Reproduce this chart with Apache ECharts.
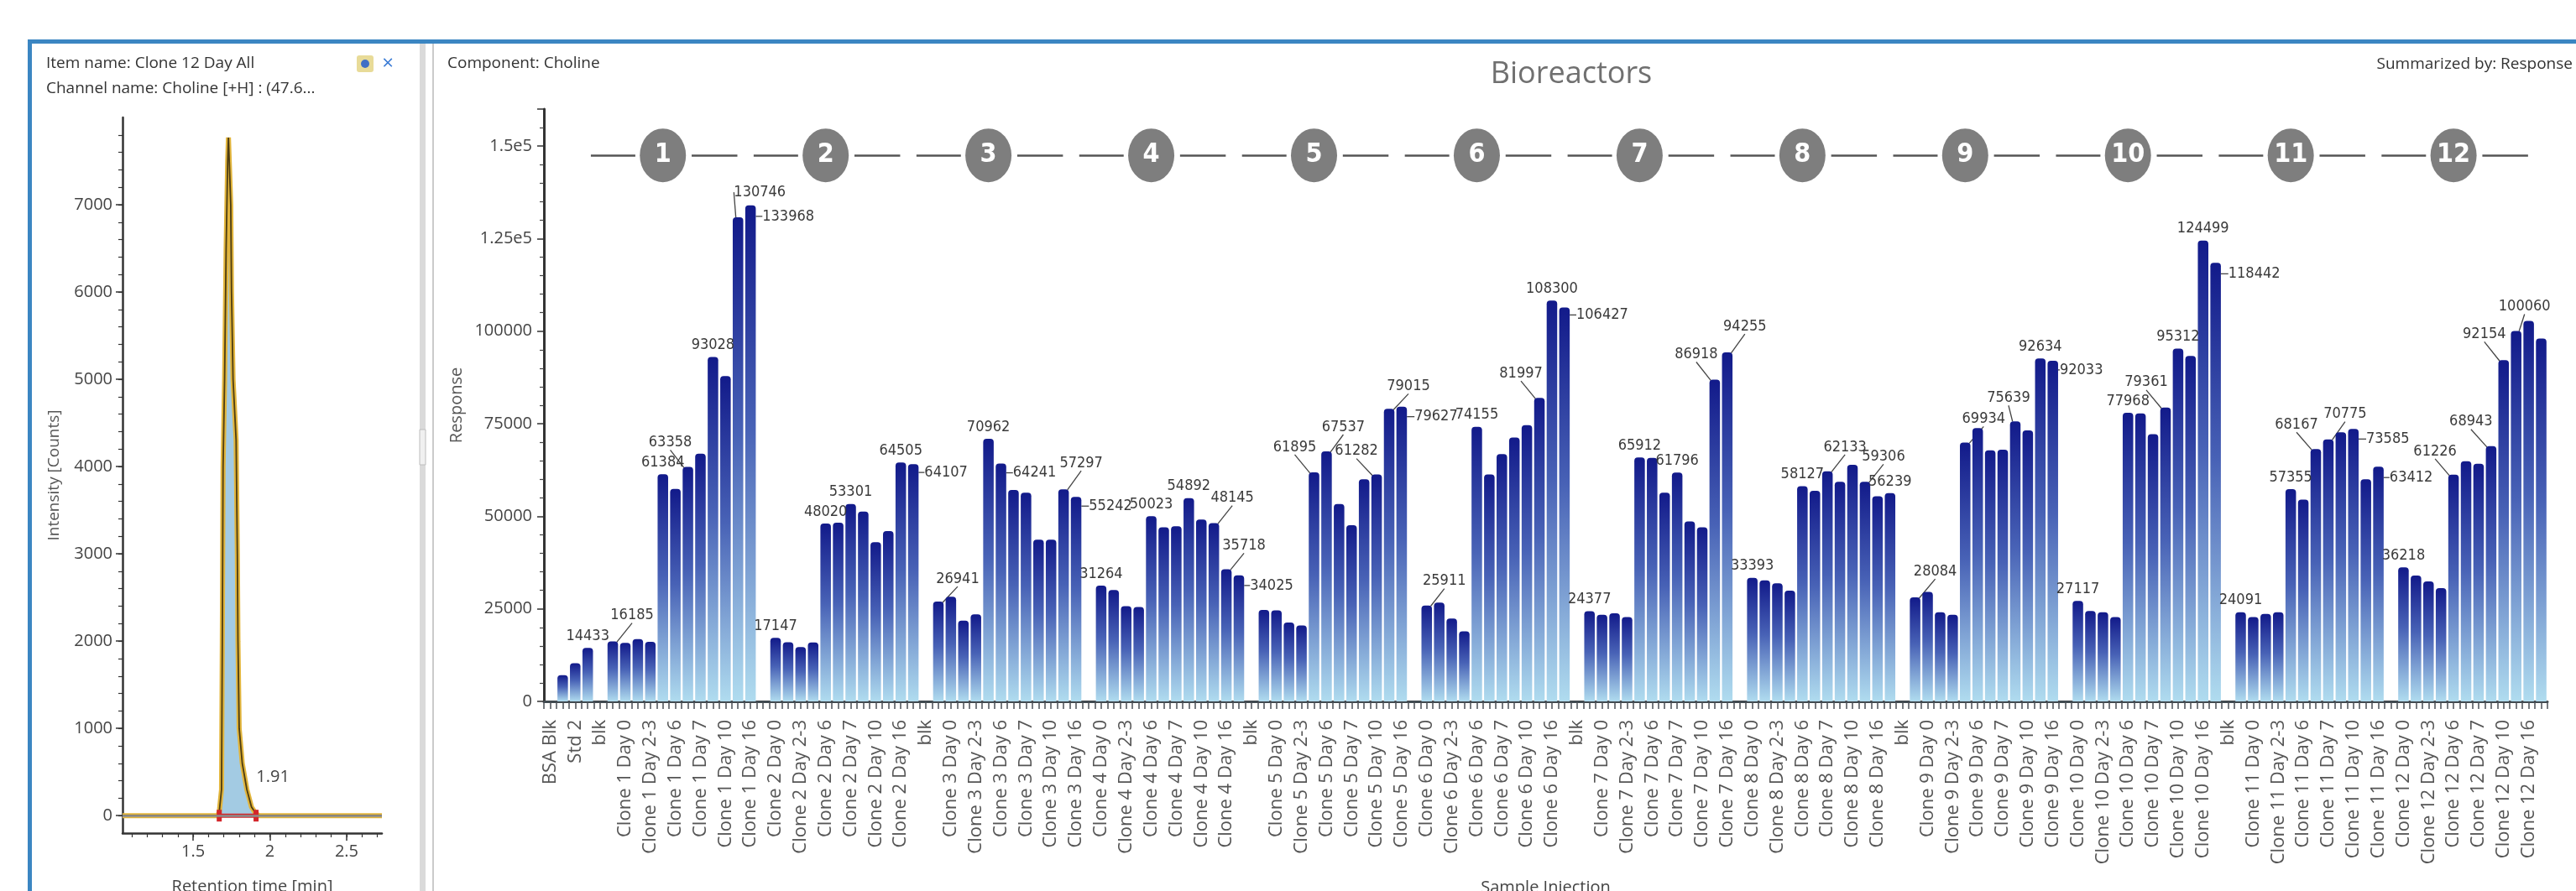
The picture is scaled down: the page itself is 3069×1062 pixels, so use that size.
<!DOCTYPE html>
<html>
<head>
<meta charset="utf-8">
<script src="https://cdn.jsdelivr.net/npm/echarts@6/dist/echarts.min.js"></script>
<style>
  html, body { margin: 0; padding: 0; background: #ffffff; }
  #chart { width: 3069px; height: 1062px; }
</style>
</head>
<body>
<div id="chart"></div>
<script>
// ---- Bioreactor responses (Choline) ----
const prefixNames = ['BSA Blk', 'BSA Blk', 'Std 2', 'Std 2', 'blk'];
const prefixValues = [0, 7100, 10300, 14433, 0];
const dayNames = ['Day 0', 'Day 2-3', 'Day 6', 'Day 7', 'Day 10', 'Day 16'];
const cloneIds = [1, 2, 3, 4, 5, 6, 7, 8, 9, 10, 11, 12];

// two injections per day, in day order
const clone1 = [16185, 15800, 16800, 16100, 61384, 57400, 63358, 66900, 93028, 87900, 130746, 133968];
const clone2 = [17147, 16000, 14700, 15900, 48020, 48300, 53301, 51300, 43000, 46000, 64505, 64107];
const clone3 = [26941, 28300, 21800, 23500, 70962, 64241, 57100, 56400, 43700, 43700, 57297, 55242];
const clone4 = [31264, 30100, 25700, 25500, 50023, 47000, 47300, 54892, 49100, 48145, 35718, 34025];
const clone5 = [24700, 24600, 21300, 20500, 61895, 67537, 53300, 47600, 60000, 61282, 79015, 79627];
const clone6 = [25911, 26700, 22400, 18900, 74155, 61300, 66800, 71300, 74600, 81997, 108300, 106427];
const clone7 = [24377, 23400, 23800, 22800, 65912, 65800, 56400, 61796, 48600, 47000, 86918, 94255];
const clone8 = [33393, 32700, 31900, 29900, 58127, 56900, 62133, 59300, 63900, 59306, 55400, 56239];
const clone9 = [28084, 29600, 24100, 23400, 69934, 73800, 67800, 68000, 75639, 73200, 92634, 92033];
const clone10 = [27117, 24400, 24100, 22800, 77968, 77800, 72200, 79361, 95312, 93300, 124499, 118442];
const clone11 = [24091, 22800, 23600, 24100, 57355, 54500, 68167, 70775, 72700, 73585, 60000, 63412];
const clone12 = [36218, 34000, 32400, 30600, 61226, 64900, 64200, 68943, 92154, 100060, 102800, 98000];
const cloneResponses = [clone1, clone2, clone3, clone4, clone5, clone6, clone7, clone8, clone9, clone10, clone11, clone12];

// injections whose response is printed
const labelledBars = [3, 5, 9, 11, 13, 15, 16, 18, 22, 24, 28, 29, 31, 35, 36, 41, 42, 44, 48, 51, 53, 54, 55,
  61, 62, 66, 67, 68, 70, 74, 79, 80, 81, 83, 87, 90, 93, 94, 96, 100, 102, 105, 107, 109, 113, 117, 119, 120,
  122, 126, 129, 130, 132, 133, 135, 139, 141, 142, 144, 146, 148, 152, 155, 156, 157];

const responseTicks = [0, 25000, 50000, 75000, 100000, 125000, 150000];

// ---- Chromatogram of Choline [+H] ----
const traceTime = [1.04, 1.60, 1.66, 1.67, 1.685, 1.69, 1.695, 1.705, 1.715, 1.725, 1.73, 1.745, 1.75, 1.76, 1.78,
  1.788, 1.792, 1.80, 1.82, 1.85, 1.88, 1.91, 1.93, 2.20, 2.73];
const traceIntensity = [0, 0, 0, 40, 300, 2000, 4000, 5000, 6500, 7500, 7770, 7000, 6000, 5000, 4300,
  3000, 2000, 1000, 600, 300, 100, 20, 0, 0, 0];
const peakName = 'Choline';
const peakApexTime = 1.73;
const peakBounds = [1.67, 1.91];
const timeTicks = [1.5, 2, 2.5];
const timeMinorTicks = [1.1, 1.2, 1.3, 1.4, 1.5, 1.6, 1.7, 1.8, 1.9, 2.0, 2.1, 2.2, 2.3, 2.4, 2.5, 2.6, 2.7];
const intensityTicks = [0, 1000, 2000, 3000, 4000, 5000, 6000, 7000];
const intensityMinorTicks = [0, 200, 400, 600, 800, 1000, 1200, 1400, 1600, 1800, 2000, 2200, 2400, 2600, 2800,
  3000, 3200, 3400, 3600, 3800, 4000, 4200, 4400, 4600, 4800, 5000, 5200, 5400, 5600, 5800, 6000, 6200, 6400,
  6600, 6800, 7000, 7200, 7400, 7600, 7800];

// ---- build the category list: prefix, then each clone followed by a blank ----
const categories = prefixNames.slice();
const responses = prefixValues.slice();
const groupStart = [];
cloneIds.forEach(function (c, ci) {
  if (ci > 0) { categories.push('blk'); responses.push(0); }
  groupStart.push(categories.length);
  dayNames.forEach(function (d) {
    categories.push('Clone ' + c + ' ' + d);
    categories.push('Clone ' + c + ' ' + d);
  });
  cloneResponses[ci].forEach(function (v) { responses.push(v); });
});

// value labels that sit beside their bar, with a short guide line (pixel nudges)
const labelNudge = {
  5: [23, -17], 11: [-21, -15], 15: [26, -16], 16: [45, 27], 29: [39, 24], 31: [23, -13], 36: [40, 25],
  41: [21, -17], 42: [41, 25], 53: [22, -16], 54: [21, -14], 55: [39, 26], 61: [-23, -16], 62: [20, -15],
  66: [-24, -14], 67: [23, -13], 68: [41, 26], 70: [21, -15], 79: [-22, -15], 81: [45, 23], 93: [-22, -16],
  94: [21, -17], 102: [21, -15], 105: [22, -16], 109: [24, -17], 113: [22, -14], 117: [-8, -14], 120: [34, 25],
  129: [-23, -16], 133: [46, 27], 141: [-23, -15], 142: [20, -16], 144: [41, 26], 146: [39, 27],
  152: [-22, -14], 155: [-24, -15], 156: [-23, -17], 157: [10, -15]
};

const labelledSet = new Set(labelledBars);
const barData = responses.map(function (v, i) {
  if (!labelledSet.has(i)) return v;
  return { value: v, label: { show: true }, labelLine: { show: !!labelNudge[i] } };
});

// bioreactor markers over each clone group
const markerY = 147500;
const markerData = groupStart.map(function (s, g) { return [s + 4, markerY, cloneIds[g]]; });
const markerLines = [];
groupStart.forEach(function (s) {
  const c = s + 4;
  markerLines.push({ coords: [[c - 5.75, markerY], [c - 2.2, markerY]] });
  markerLines.push({ coords: [[c + 2.3, markerY], [c + 5.95, markerY]] });
});

// chromatogram trace with the apex label
const traceData = traceTime.map(function (t, i) {
  if (t === peakApexTime) {
    return {
      value: [t, traceIntensity[i]],
      label: {
        show: true, position: 'right', distance: 16,
        formatter: '{n|' + peakName + '}\n{n|' + t.toFixed(2) + '}',
        backgroundColor: '#fbe7a3', borderColor: '#e0c266', borderWidth: 1, borderRadius: 3,
        padding: [3, 4],
        rich: { n: { width: 68, align: 'center', fontSize: 19, lineHeight: 27, color: '#3a3a3a', fontFamily: 'Open Sans' } }
      }
    };
  }
  return [t, traceIntensity[i]];
});

const sans = 'Open Sans';
const narrow = '"Liberation Sans Narrow", "DejaVu Sans Condensed", "Liberation Sans", sans-serif';

const option = {
  animation: false,
  backgroundColor: '#ffffff',
  title: {
    text: 'Bioreactors', left: 1867, top: 66, textAlign: 'center',
    textStyle: { fontFamily: sans, fontSize: 36, fontWeight: 'normal', color: '#707070' }
  },
  grid: [
    { left: 648, right: 34, top: 130, bottom: 226, containLabel: false, outerBoundsMode: 'none' },
    { left: 648, right: 34, top: 130, bottom: 226, containLabel: false, outerBoundsMode: 'none' },
    { left: 146, top: 140, width: 309, height: 853, containLabel: false, outerBoundsMode: 'none' },
    { left: 146, top: 140, width: 309, height: 853, containLabel: false, outerBoundsMode: 'none' }
  ],
  xAxis: [
    {
      type: 'category', gridIndex: 0, data: categories,
      axisLine: { lineStyle: { color: '#404a50', width: 3 } },
      axisTick: { show: false },
      axisLabel: { interval: 1, rotate: 90, margin: 22, fontFamily: sans, fontSize: 22, color: '#555555' },
      name: 'Sample Injection', nameLocation: 'middle', nameGap: 212,
      nameTextStyle: { fontFamily: sans, fontSize: 20, color: '#444444' }
    },
    {
      type: 'value', gridIndex: 1, min: -0.5, max: 159.5, interval: 0.5,
      axisLine: { show: false },
      axisTick: { show: true, length: 9, lineStyle: { color: '#4a4f55', width: 1.5 } },
      axisLabel: { show: false }, splitLine: { show: false }
    },
    {
      type: 'value', gridIndex: 2, min: 1.04, max: 2.73,
      axisLine: { onZero: false, lineStyle: { color: '#333333', width: 2.5 } },
      axisTick: { customValues: timeTicks, length: 9, lineStyle: { color: '#333333', width: 1.5 } },
      axisLabel: { customValues: timeTicks, margin: 12, fontFamily: sans, fontSize: 20, color: '#444444' },
      splitLine: { show: false },
      name: 'Retention time [min]', nameLocation: 'middle', nameGap: 54,
      nameTextStyle: { fontFamily: sans, fontSize: 20, color: '#444444' }
    },
    {
      type: 'value', gridIndex: 3, min: 1.04, max: 2.73,
      axisLine: { show: false, onZero: false },
      axisTick: { customValues: timeMinorTicks, length: 5, lineStyle: { color: '#333333', width: 1.2 } },
      axisLabel: { show: false }, splitLine: { show: false }
    }
  ],
  yAxis: [
    {
      type: 'value', gridIndex: 0, min: 0, max: 160000, interval: 25000,
      axisLine: { show: true, lineStyle: { color: '#333333', width: 3 } },
      axisTick: { show: true, length: 8, lineStyle: { color: '#333333', width: 1.5 } },
      minorTick: { show: true, splitNumber: 5, length: 5, lineStyle: { color: '#444444', width: 1.2 } },
      axisLabel: {
        margin: 14, fontFamily: sans, fontSize: 20, color: '#444444',
        formatter: function (v) {
          if (responseTicks.indexOf(v) < 0) return '';
          return v >= 125000 ? (v / 1e5) + 'e5' : String(v);
        }
      },
      splitLine: { show: false },
      name: 'Response', nameLocation: 'middle', nameGap: 88,
      nameTextStyle: { fontFamily: sans, fontSize: 20, color: '#555555' }
    },
    { type: 'value', gridIndex: 1, min: 0, max: 160000, show: false },
    {
      type: 'value', gridIndex: 2, min: -200, max: 8000,
      axisLine: { show: true, onZero: false, lineStyle: { color: '#333333', width: 2.5 } },
      axisTick: { customValues: intensityTicks, length: 8, lineStyle: { color: '#333333', width: 1.5 } },
      axisLabel: {
        customValues: intensityTicks, margin: 12, fontFamily: sans, fontSize: 20, color: '#444444',
        formatter: function (v) { return String(v); }
      },
      splitLine: { show: false },
      name: 'Intensity [Counts]', nameLocation: 'middle', nameGap: 72,
      nameTextStyle: { fontFamily: sans, fontSize: 19, color: '#555555' }
    },
    {
      type: 'value', gridIndex: 3, min: -200, max: 8000,
      axisLine: { show: false, onZero: false },
      axisTick: { customValues: intensityMinorTicks, length: 5, lineStyle: { color: '#333333', width: 1.2 } },
      axisLabel: { show: false }, splitLine: { show: false }
    }
  ],
  series: [
    {
      type: 'bar', xAxisIndex: 0, yAxisIndex: 0, data: barData,
      barCategoryGap: '16%',
      itemStyle: {
        borderRadius: [4, 4, 0, 0],
        color: new echarts.graphic.LinearGradient(0, 0, 0, 1, [
          { offset: 0, color: '#121a8a' },
          { offset: 0.45, color: '#4862b6' },
          { offset: 1, color: '#b0dcef' }
        ])
      },
      label: {
        show: false, position: 'top', distance: 5,
        fontFamily: narrow, fontSize: 18, color: '#3a3a3a'
      },
      labelLine: { show: false, lineStyle: { color: '#444444', width: 1.3 } },
      labelLayout: function (params) {
        const n = labelNudge[params.dataIndex];
        return n ? { dx: n[0], dy: n[1] } : {};
      }
    },
    {
      type: 'lines', coordinateSystem: 'cartesian2d', xAxisIndex: 1, yAxisIndex: 1,
      data: markerLines, silent: true,
      lineStyle: { color: '#555555', width: 2.5, opacity: 1 }
    },
    {
      type: 'scatter', xAxisIndex: 1, yAxisIndex: 1, data: markerData, silent: true,
      symbol: 'circle', symbolSize: [55, 64],
      itemStyle: { color: '#7e7e7e', opacity: 1 },
      label: {
        show: true, position: 'inside',
        formatter: function (p) { return p.value[2]; },
        fontFamily: narrow, fontWeight: 'bold', fontSize: 32, color: '#ffffff'
      },
      z: 3
    },
    {
      type: 'line', xAxisIndex: 2, yAxisIndex: 2, data: traceTime.map(function (t, i) { return [t, traceIntensity[i]]; }),
      showSymbol: false, silent: true,
      lineStyle: { color: '#e2b53c', width: 6 },
      areaStyle: { color: '#a3cbe3', opacity: 1 },
      markLine: {
        silent: true, symbol: ['none', 'none'], label: { show: false },
        lineStyle: { color: '#8c8c8c', type: 'solid', width: 2.5 },
        data: [{ yAxis: 0 }]
      },
      z: 2
    },
    {
      type: 'line', xAxisIndex: 2, yAxisIndex: 2, data: traceData,
      showSymbol: false, symbolSize: 0.1, silent: true,
      lineStyle: { color: '#4d3d12', width: 1.8 },
      z: 3
    },
    {
      type: 'line', xAxisIndex: 2, yAxisIndex: 2, silent: true,
      data: [[peakBounds[0], 0], { value: [peakBounds[1], 0], label: {
        show: true, position: 'top', offset: [20, -24], formatter: peakBounds[1].toFixed(2),
        fontFamily: sans, fontSize: 20, color: '#444444'
      } }],
      symbol: 'rect', symbolSize: [6, 14], showSymbol: true,
      lineStyle: { color: '#d3262a', width: 5 },
      itemStyle: { color: '#d3262a' },
      z: 4
    }
  ],
  graphic: [
    // dashboard frame
    { type: 'rect', shape: { x: 33, y: 47, width: 3036, height: 5 }, style: { fill: '#3b86c2' }, silent: true },
    { type: 'rect', shape: { x: 33, y: 47, width: 5, height: 1015 }, style: { fill: '#3b86c2' }, silent: true },
    // splitter between the two panes
    { type: 'rect', shape: { x: 500, y: 52, width: 7, height: 1010 }, style: { fill: '#dadada' }, silent: true },
    { type: 'rect', shape: { x: 515, y: 52, width: 2, height: 1010 }, style: { fill: '#cbcbcb' }, silent: true },
    { type: 'rect', shape: { x: 500, y: 512, width: 7, height: 42 }, style: { fill: '#f0f0f0', stroke: '#bdbdbd', lineWidth: 1 }, silent: true },
    // chromatogram header
    { type: 'text', x: 55, y: 76, style: { text: 'Item name: Clone 12 Day All', fill: '#333333', font: '19px "Open Sans"', verticalAlign: 'middle' }, silent: true },
    { type: 'text', x: 55, y: 106, style: { text: 'Channel name: Choline [+H] : (47.6...', fill: '#333333', font: '19px "Open Sans"', verticalAlign: 'middle' }, silent: true },
    { type: 'rect', shape: { x: 425, y: 66, width: 20, height: 20, r: 3 }, style: { fill: '#e8db98' }, silent: true },
    { type: 'circle', shape: { cx: 435, cy: 76, r: 5 }, style: { fill: '#3f6fc6' }, silent: true },
    { type: 'text', x: 462, y: 76, style: { text: '\u00d7', fill: '#3a7bd5', font: '24px "Open Sans"', align: 'center', verticalAlign: 'middle' }, silent: true },
    // bar chart header
    { type: 'text', x: 533, y: 76, style: { text: 'Component: Choline', fill: '#333333', font: '19px "Open Sans"', verticalAlign: 'middle' }, silent: true },
    { type: 'text', x: 3065, y: 77, style: { text: 'Summarized by: Response', fill: '#333333', font: '19px "Open Sans"', align: 'right', verticalAlign: 'middle' }, silent: true }
  ]
};

const chart = echarts.init(document.getElementById('chart'));
chart.setOption(option);
</script>
</body>
</html>
